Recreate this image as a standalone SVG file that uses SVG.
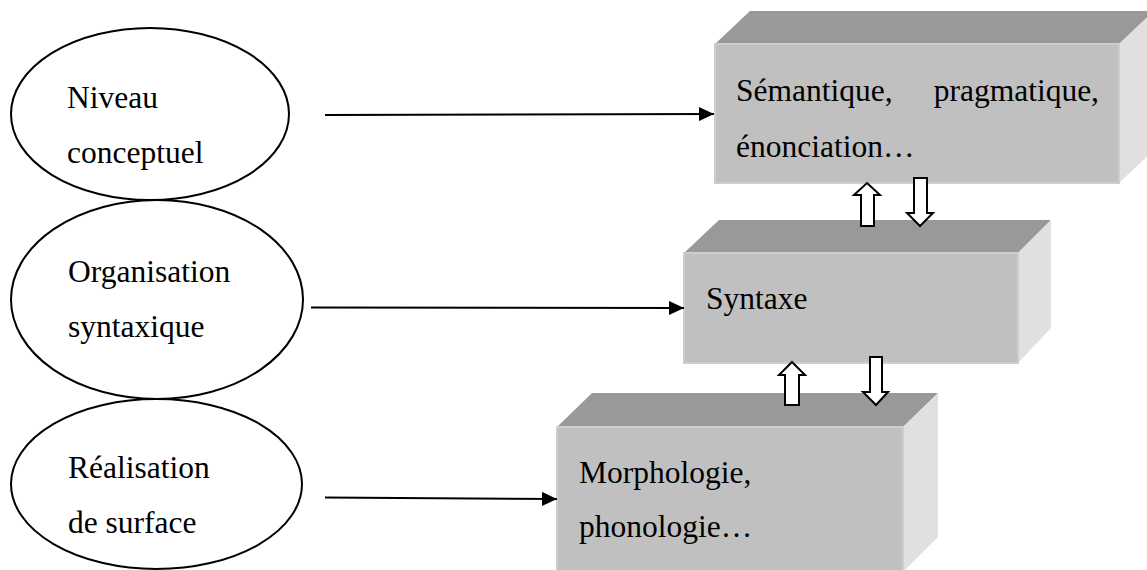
<svg xmlns="http://www.w3.org/2000/svg" width="1147" height="570" viewBox="0 0 1147 570">
<style>
.ell{fill:#ffffff;stroke:#000000;stroke-width:2}
.t{font-family:"Liberation Serif","Times New Roman",serif;font-size:31.5px;fill:#000000}
.top{fill:#999999}
.front{fill:#c0c0c0;stroke:#cdcdcd;stroke-width:2}
.side{fill:#e0e0e0}
.conn{stroke:#000000;stroke-width:2;fill:none}
.blk{fill:#ffffff;stroke:#000000;stroke-width:2;stroke-linejoin:miter}
</style>
<defs>
<marker id="ah" markerWidth="16" markerHeight="14" refX="15" refY="7" orient="auto" markerUnits="userSpaceOnUse">
<path d="M0,0 L15,7 L0,14 Z" fill="#000000"/>
</marker>
</defs>
<rect width="1147" height="570" fill="#ffffff"/>
<g id="ellipse-niveau">
<ellipse class="ell" cx="150" cy="114" rx="139" ry="86"/>
<text class="t" x="67" y="108">Niveau</text>
<text class="t" x="67" y="163">conceptuel</text>
</g>
<g id="ellipse-organisation">
<ellipse class="ell" cx="157" cy="299.5" rx="146" ry="99.5"/>
<text class="t" x="68" y="282">Organisation</text>
<text class="t" x="68" y="337">syntaxique</text>
</g>
<g id="ellipse-realisation">
<ellipse class="ell" cx="156.5" cy="484" rx="145.5" ry="85"/>
<text class="t" x="68" y="478">Réalisation</text>
<text class="t" x="68" y="533">de surface</text>
</g>
<g id="box-semantique">
<polygon class="top" points="715,44 750,11 1154,11 1119,44"/>
<polygon class="side" points="1119,44 1154,11 1154,150 1119,183"/>
<rect class="front" x="715" y="44" width="404" height="139"/>
<text class="t" x="736" y="101">Sémantique,</text>
<text class="t" x="1099" y="101" text-anchor="end">pragmatique,</text>
<text class="t" x="736" y="157">énonciation…</text>
</g>
<g id="box-syntaxe">
<polygon class="top" points="684,253 719,220 1051,220 1018,253"/>
<polygon class="side" points="1018,253 1051,220 1051,328 1018,363"/>
<rect class="front" x="684" y="253" width="334" height="110"/>
<text class="t" x="706" y="309">Syntaxe</text>
</g>
<g id="box-morphologie">
<polygon class="top" points="557,427 592,393 938,393 903,427"/>
<polygon class="side" points="903,427 938,393 938,537 903,572"/>
<rect class="front" x="557" y="427" width="346" height="145"/>
<text class="t" x="579" y="483">Morphologie,</text>
<text class="t" x="579" y="537">phonologie…</text>
</g>
<g id="connectors">
<line class="conn" x1="325" y1="115" x2="714" y2="114" marker-end="url(#ah)"/>
<line class="conn" x1="311" y1="307.5" x2="684" y2="308" marker-end="url(#ah)"/>
<line class="conn" x1="325" y1="497.5" x2="557" y2="499" marker-end="url(#ah)"/>
<polygon class="blk" points="867,183 880,195 874,195 874,226 861,226 861,195 854,195"/>
<polygon class="blk" points="914,178 927,178 927,213 933,213 920,226 907,213 914,213"/>
<polygon class="blk" points="792,362 805,375 799,375 799,405 785,405 785,375 779,375"/>
<polygon class="blk" points="870,357 882,357 882,392 888,392 876,405 863,392 870,392"/>
</g>
</svg>
